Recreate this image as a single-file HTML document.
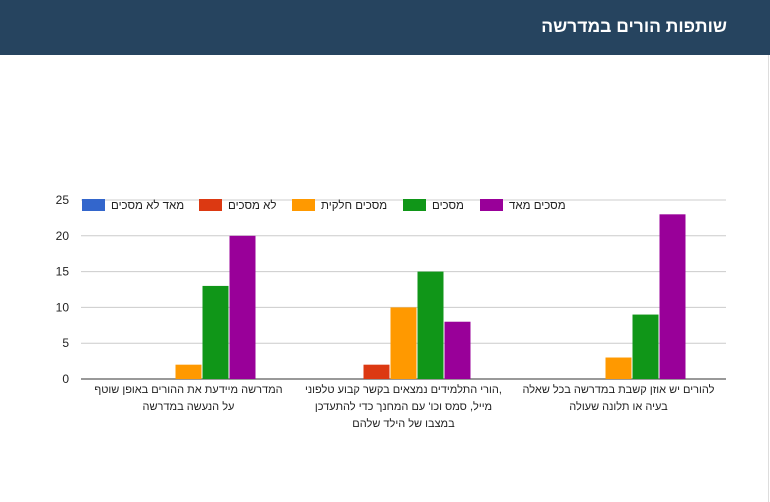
<!DOCTYPE html>
<html><head><meta charset="utf-8"><style>
body{margin:0;width:770px;height:502px;background:#fff;overflow:hidden;font-family:"Liberation Sans",Arial,sans-serif}
#hdr{position:absolute;left:0;top:0;width:770px;height:55px;background:#26445f}
#title{position:absolute;right:43px;top:16px;color:#fff;font-size:17.5px;font-weight:bold;direction:rtl}
svg{position:absolute;left:0;top:0}
</style></head><body>
<div id="hdr"><div id="title">שותפות הורים במדרשה</div></div>
<svg id="chart" width="770" height="502"></svg>
<script>
const categories=[["המדרשה מיידעת את ההורים באופן שוטף","על הנעשה במדרשה"],[",הורי התלמידים נמצאים בקשר קבוע טלפוני","מייל, סמס וכו' עם המחנך כדי להתעדכן","במצבו של הילד שלהם"],["להורים יש אוזן קשבת במדרשה בכל שאלה","בעיה או תלונה שעולה"]];
const seriesNames=["מאד לא מסכים","לא מסכים","מסכים חלקית","מסכים","מסכים מאד"];
const colors=["#3366cc","#dc3912","#ff9900","#109618","#990099"];
const veryDisagree=[0,0,0];
const disagree=[0,2,0];
const partlyAgree=[2,10,3];
const agree=[13,15,9];
const stronglyAgree=[20,8,23];
const yTicks=[0,5,10,15,20,25];
const series=[veryDisagree,disagree,partlyAgree,agree,stronglyAgree];
const svg=document.getElementById('chart');const NS='http://www.w3.org/2000/svg';
const X0=81,X1=726,Y0=379,Y1=200,YMAX=25;
const y=v=>Y0-(v/YMAX)*(Y0-Y1);
const gw=(X1-X0)/categories.length;
const gx=i=>X0+gw*(i+0.5);
function mk(t,a){const e=document.createElementNS(NS,t);for(const k in a)e.setAttribute(k,a[k]);svg.appendChild(e);return e;}
yTicks.forEach(t=>{
 const l=mk('line',{x1:X0,x2:X1,y1:y(t),y2:y(t),stroke:t===0?'#333':'#ccc','stroke-width':1});
 
 
 const tx=mk('text',{x:69,y:y(t)+4,'text-anchor':'end','font-size':12,fill:'#222'});tx.textContent=t;
 
 
});
const bw=26,gap=1;
series.forEach((s,si)=>{s.forEach((v,ci)=>{
 if(v<=0)return;
 const cx=gx(ci)+(si-2)*(bw+gap);
 const r=mk('rect',{x:cx-bw/2,y:y(v),width:bw,height:Y0-y(v),fill:colors[si]});
 
 
});});
categories.forEach((lines,ci)=>{lines.forEach((ln,li)=>{
 const t=mk('text',{x:gx(ci),y:393+li*17,'text-anchor':'middle','font-size':11,fill:'#222',direction:'rtl'});t.textContent=ln;
 
 
});});
const legX=[82,199,292,403,480];
seriesNames.forEach((n,i)=>{
 const r=mk('rect',{x:legX[i],y:199,width:23,height:12,fill:colors[i]});
 
 
 const t=mk('text',{x:legX[i]+29,y:209,'font-size':11.5,fill:'#222'});t.textContent=n;
 
 
});
const b=mk('line',{x1:768.5,x2:768.5,y1:55,y2:502,stroke:'#ddd'});


</script>
</body></html>
